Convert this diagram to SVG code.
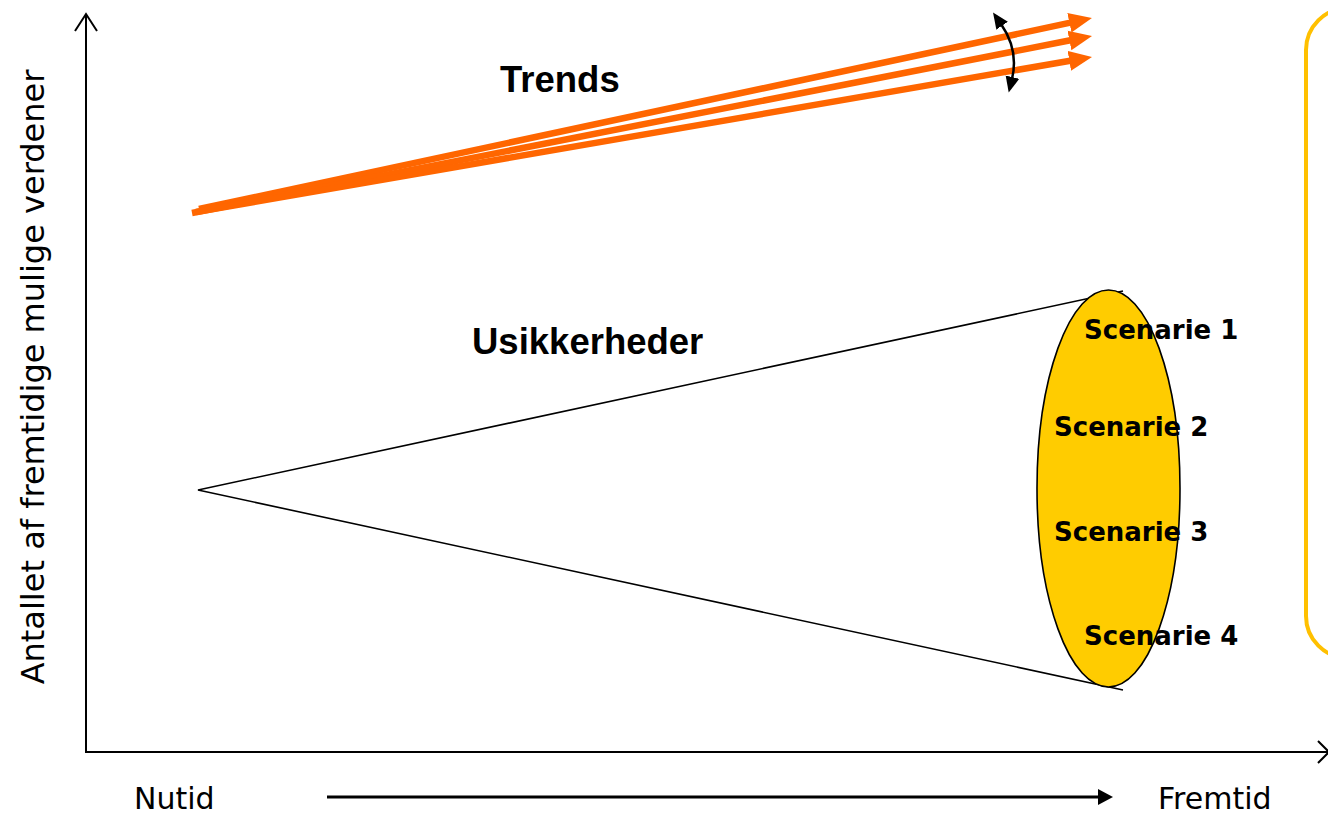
<svg xmlns="http://www.w3.org/2000/svg" width="1328" height="814" viewBox="0 0 1328 814">
<style>
.axis{fill:none;stroke:#000;stroke-width:2}
.cone{fill:none;stroke:#000;stroke-width:1.6}
.trend{fill:none;stroke:#FF6600;stroke-width:6.5;marker-end:url(#orangeHead)}
.lbl{font-family:"DejaVu Sans",Verdana,sans-serif;font-size:30px;fill:#000}
.big{font-family:"Liberation Sans",Arial,sans-serif;font-size:36.5px;font-weight:bold;fill:#000}
.scen{font-family:"DejaVu Sans",Verdana,sans-serif;font-size:26px;font-weight:bold;fill:#000}
</style>
<defs>
<marker id="orangeHead" markerUnits="userSpaceOnUse" viewBox="0 -11 26 22" markerWidth="26" markerHeight="22" refX="1" refY="0" orient="auto">
<path d="M0,-10 L23,0 L0,10 z" fill="#FF6600"/>
</marker>
<marker id="blackHead" markerUnits="userSpaceOnUse" viewBox="0 -9 18 18" markerWidth="18" markerHeight="18" refX="2" refY="0" orient="auto">
<path d="M0,-7 L16,0 L0,7 z" fill="#000"/>
</marker>
<marker id="blackHeadStart" markerUnits="userSpaceOnUse" viewBox="0 -9 18 18" markerWidth="18" markerHeight="18" refX="2" refY="0" orient="auto-start-reverse">
<path d="M0,-7 L16,0 L0,7 z" fill="#000"/>
</marker>
</defs>
<rect width="1328" height="814" fill="#fff"/>

<g id="legend-box">
<rect x="1306" y="8" width="120" height="650" rx="42" ry="42" fill="none" stroke="#FFC000" stroke-width="4"/>
</g>

<g id="axes">
<path class="axis" d="M86,752 L86,15"/>
<path class="axis" d="M75,31 L86,14 L97,31"/>
<path class="axis" d="M85,752 L1328,752"/>
<path class="axis" d="M1318,741 L1329,752 L1318,763"/>
<text class="lbl" transform="translate(44,377) rotate(-90)" text-anchor="middle" style="font-size:32px">Antallet af fremtidige mulige verdener</text>
</g>

<g id="time-labels">
<text class="lbl" x="134" y="809">Nutid</text>
<text class="lbl" x="1158" y="809">Fremtid</text>
<line x1="327" y1="797" x2="1100" y2="797" stroke="#000" stroke-width="3"/>
<path d="M1098,789 L1113,797 L1098,805 z" fill="#000"/>
</g>

<g id="trends">
<text class="big" x="500" y="92">Trends</text>
<g id="connectors">
<path class="trend" d="M199,209 L1070.4,22.6"/>
<path class="trend" d="M192,213 L1070.4,40.3"/>
<path class="trend" d="M196,212 L1070.3,60.7"/>
<path d="M1001,24 Q1019,50 1012,79" fill="none" stroke="#000" stroke-width="2.5" marker-start="url(#blackHeadStart)" marker-end="url(#blackHead)"/>
</g>
</g>

<g id="uncertainties">
<text class="big" x="472" y="354">Usikkerheder</text>
<path class="cone" d="M1123,291 L198,490 L1123,690"/>
</g>

<g id="scenarios">
<ellipse cx="1108.5" cy="488.5" rx="71.5" ry="198.5" fill="#FFCC00" stroke="#000" stroke-width="1.6"/>
<text class="scen" x="1084" y="339">Scenarie 1</text>
<text class="scen" x="1054" y="436">Scenarie 2</text>
<text class="scen" x="1054" y="541">Scenarie 3</text>
<text class="scen" x="1084" y="645">Scenarie 4</text>
</g>
</svg>
